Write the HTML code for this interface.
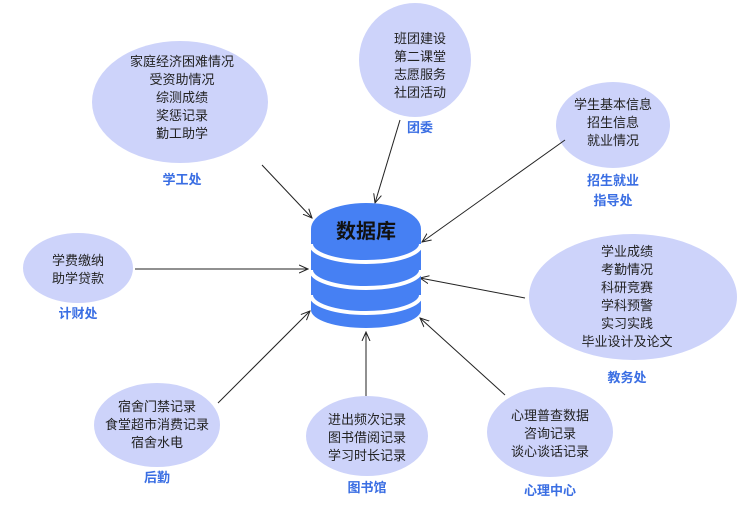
<!DOCTYPE html>
<html><head><meta charset="utf-8"><style>
body{margin:0;background:#fff}
text{font-family:"Liberation Sans","Noto Sans CJK SC",sans-serif}
.t{font-size:13px;fill:#222;text-anchor:middle}
.h{font-size:13px;fill:#3a6ee3;font-weight:bold;text-anchor:middle}
</style></head><body>
<svg width="744" height="514" xmlns="http://www.w3.org/2000/svg">
<defs><marker id="a" markerWidth="10" markerHeight="10" refX="9" refY="5" orient="auto" markerUnits="userSpaceOnUse"><path d="M0,1 L9,5 L0,9" fill="none" stroke="#222" stroke-width="1"/></marker></defs>
<g fill="#cdd3fa">
<ellipse cx="180" cy="102" rx="88" ry="61"/>
<ellipse cx="415" cy="60" rx="56" ry="57"/>
<ellipse cx="613" cy="125" rx="57" ry="43"/>
<ellipse cx="78" cy="268" rx="55" ry="35"/>
<ellipse cx="633" cy="297" rx="104" ry="63"/>
<ellipse cx="157" cy="425" rx="63" ry="42"/>
<ellipse cx="367" cy="436" rx="61" ry="40"/>
<ellipse cx="550" cy="432" rx="63" ry="45"/>
</g>
<g stroke="#222" stroke-width="1" marker-end="url(#a)">
<line x1="262" y1="165" x2="312" y2="218"/>
<line x1="400" y1="120" x2="375" y2="203"/>
<line x1="565" y1="140" x2="422" y2="242"/>
<line x1="135" y1="269" x2="308" y2="269"/>
<line x1="525" y1="298" x2="420" y2="278"/>
<line x1="218" y1="403" x2="310" y2="311"/>
<line x1="366" y1="396" x2="366" y2="332"/>
<line x1="505" y1="395" x2="420" y2="318"/>
</g>
<g>
<rect x="311" y="229" width="110" height="81" fill="#4680f3"/>
<ellipse cx="366" cy="310" rx="55" ry="18" fill="#4680f3"/>
<path d="M311,244 A55,18 0 0 0 421,244" fill="none" stroke="#fff" stroke-width="4"/>
<path d="M311,270 A55,18 0 0 0 421,270" fill="none" stroke="#fff" stroke-width="4"/>
<path d="M311,295 A55,18 0 0 0 421,295" fill="none" stroke="#fff" stroke-width="4"/>
<ellipse cx="366" cy="229" rx="55" ry="26" fill="#4680f3"/>
<text x="366" y="238" text-anchor="middle" font-size="20" font-weight="bold" fill="#111">数据库</text>
</g>
<g class="t">
<text class="t" x="182" y="66">家庭经济困难情况</text>
<text class="t" x="182" y="84">受资助情况</text>
<text class="t" x="182" y="102">综测成绩</text>
<text class="t" x="182" y="120">奖惩记录</text>
<text class="t" x="182" y="138">勤工助学</text>
<text class="h" x="182" y="184">学工处</text>
<text class="t" x="420" y="43">班团建设</text>
<text class="t" x="420" y="61">第二课堂</text>
<text class="t" x="420" y="79">志愿服务</text>
<text class="t" x="420" y="97">社团活动</text>
<text class="h" x="420" y="132">团委</text>
<text class="t" x="613" y="109">学生基本信息</text>
<text class="t" x="613" y="127">招生信息</text>
<text class="t" x="613" y="145">就业情况</text>
<text class="h" x="613" y="185">招生就业</text>
<text class="h" x="613" y="205">指导处</text>
<text class="t" x="78" y="265">学费缴纳</text>
<text class="t" x="78" y="283">助学贷款</text>
<text class="h" x="78" y="318">计财处</text>
<text class="t" x="627" y="256">学业成绩</text>
<text class="t" x="627" y="274">考勤情况</text>
<text class="t" x="627" y="292">科研竞赛</text>
<text class="t" x="627" y="310">学科预警</text>
<text class="t" x="627" y="328">实习实践</text>
<text class="t" x="627" y="346">毕业设计及论文</text>
<text class="h" x="627" y="382">教务处</text>
<text class="t" x="157" y="411">宿舍门禁记录</text>
<text class="t" x="157" y="429">食堂超市消费记录</text>
<text class="t" x="157" y="447">宿舍水电</text>
<text class="h" x="157" y="482">后勤</text>
<text class="t" x="367" y="424">进出频次记录</text>
<text class="t" x="367" y="442">图书借阅记录</text>
<text class="t" x="367" y="460">学习时长记录</text>
<text class="h" x="367" y="492">图书馆</text>
<text class="t" x="550" y="420">心理普查数据</text>
<text class="t" x="550" y="438">咨询记录</text>
<text class="t" x="550" y="456">谈心谈话记录</text>
<text class="h" x="550" y="495">心理中心</text>
</g>
</svg>
</body></html>
